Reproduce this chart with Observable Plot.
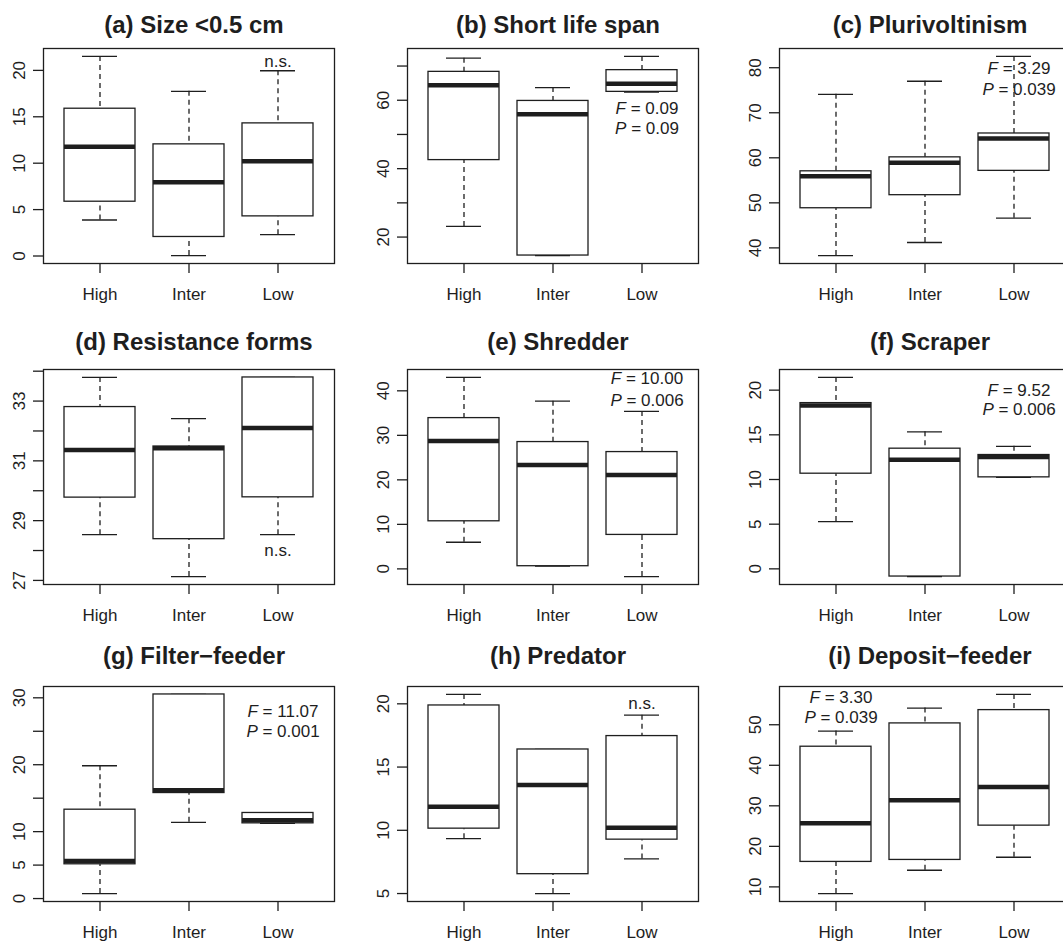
<!DOCTYPE html>
<html><head><meta charset="utf-8">
<script src="https://cdn.jsdelivr.net/npm/d3@7"></script>
<script src="https://cdn.jsdelivr.net/npm/@observablehq/plot@0.6"></script>
<style>
html,body{margin:0;padding:0;background:#fff;overflow:hidden;}
#fig{position:relative;width:1063px;height:942px;overflow:hidden;background:#fff;}
#fig svg{position:absolute;}
</style></head><body><div id="fig"></div>
<script>
const groups = ["High", "Inter", "Low"];
const titles = ["(a) Size <0.5 cm", "(b) Short life span", "(c) Plurivoltinism",
  "(d) Resistance forms", "(e) Shredder", "(f) Scraper",
  "(g) Filter\u2212feeder", "(h) Predator", "(i) Deposit\u2212feeder"];

// box statistics, one row per panel, columns High / Inter / Low
const whiskerLow = [
  [3.88, 0.05, 2.3], [23.1, 14.6, 62.4], [38.3, 41.2, 46.6],
  [28.53, 27.13, 28.53], [5.98, 0.6, -1.72], [5.29, -0.86, 10.24],
  [0.75, 11.39, 11.24], [9.34, 5.0, 7.74], [8.36, 14.1, 17.31]];
const quart1 = [
  [5.85, 2.05, 4.27], [42.5, 14.6, 62.45], [48.8, 51.7, 57.1],
  [29.77, 28.38, 29.78], [10.69, 0.6, 7.63], [10.65, -0.86, 10.24],
  [5.12, 15.77, 11.24], [10.13, 6.53, 9.26], [16.16, 16.65, 25.11]];
const median = [
  [11.78, 7.94, 10.2], [64.4, 55.9, 64.8], [55.9, 58.9, 64.3],
  [31.36, 31.42, 32.1], [28.7, 23.33, 21.08], [18.29, 12.22, 12.51],
  [5.62, 16.2, 11.69], [11.87, 13.58, 10.21], [25.69, 31.36, 34.64]];
const quart3 = [
  [15.87, 12.03, 14.29], [68.3, 59.8, 68.8], [57.0, 60.1, 65.4],
  [32.8, 31.48, 33.79], [33.87, 28.49, 26.24], [18.55, 13.45, 12.74],
  [13.28, 30.5, 12.79], [19.87, 16.39, 17.45], [44.58, 50.33, 53.61]];
const whiskerHigh = [
  [21.5, 17.74, 19.96], [72.3, 63.7, 72.8], [74.1, 77.0, 82.5],
  [33.79, 32.41, 33.79], [43.0, 37.68, 35.36], [21.42, 15.34, 13.71],
  [19.85, 30.5, 12.79], [20.74, 16.39, 19.1], [48.44, 54.1, 57.47]];

const yTicks = [
  [0, 5, 10, 15, 20], [20, 30, 40, 50, 60, 70], [40, 50, 60, 70, 80],
  [27, 28, 29, 30, 31, 32, 33, 34], [0, 10, 20, 30, 40], [0, 5, 10, 15, 20],
  [0, 5, 10, 15, 20, 25, 30], [5, 10, 15, 20], [10, 20, 30, 40, 50]];
const yLabels = [
  [0, 5, 10, 15, 20], [20, 40, 60], [40, 50, 60, 70, 80],
  [27, 29, 31, 33], [0, 10, 20, 30, 40], [0, 5, 10, 15, 20],
  [0, 5, 10, 20, 30], [5, 10, 15, 20], [10, 20, 30, 40, 50]];

// annotations
const noteText = [["n.s."], ["F = 0.09", "P = 0.09"], ["F = 3.29", "P = 0.039"],
  ["n.s."], ["F = 10.00", "P = 0.006"], ["F = 9.52", "P = 0.006"],
  ["F = 11.07", "P = 0.001"], ["n.s."], ["F = 3.30", "P = 0.039"]];
const noteGroup = ["Low", "Low", "Low", "Low", "Low", "Low", "Low", "Low", "High"];
const noteY = [[20.95], [57.66, 51.8], [79.85, 75.07], [28.0], [42.84, 37.9],
  [19.93, 17.88], [27.9, 24.9], [20.0], [56.8, 51.7]];

// layout
const colLeft = [43.3, 406.7, 779.3];
const rowTop = [47.7, 369, 685.7];
const titleGap = [24, 27.7, 31.3];
const frameW = 291, frameH = 215;
const mL = 45, mR = 2, mT = 50, mB = 45;
const ink = "#1e1e1e";
const svgns = "http://www.w3.org/2000/svg";
const fig = document.getElementById("fig");

for (let p = 0; p < 9; p++) {
  const r = Math.floor(p / 3), c = p % 3;
  const rows = groups.map((g, j) => ({
    group: g, lo: whiskerLow[p][j], q1: quart1[p][j], med: median[p][j],
    q3: quart3[p][j], hi: whiskerHigh[p][j]}));
  const lo = d3.min(rows, d => d.lo), hi = d3.max(rows, d => d.hi);
  const pad = 0.04 * (hi - lo);
  const notes = noteText[p].map((t, k) => ({group: noteGroup[p], y: noteY[p][k], text: t}));
  const isStat = notes[0].text.startsWith("F");
  const line = {stroke: ink, strokeWidth: 1.3};
  const chart = Plot.plot({
    width: mL + frameW + mR, height: mT + frameH + mB,
    marginLeft: mL, marginRight: mR, marginTop: mT, marginBottom: mB,
    style: {fontFamily: "'Liberation Sans', Arial, Helvetica, sans-serif", fontSize: "17px", color: ink, background: "transparent", overflow: "visible"},
    x: {type: "band", domain: groups, paddingInner: 0.2, paddingOuter: 0.22},
    y: {domain: [lo - pad, hi + pad]},
    marks: [
      Plot.axisX({tickSize: 10, tickPadding: 14, fontSize: 17, label: null, strokeWidth: 1.3}),
      Plot.axisY({ticks: yTicks[p], tickFormat: d => yLabels[p].includes(d) ? String(d) : "",
        tickRotate: -90, tickSize: 10, tickPadding: 9, fontSize: 17, label: null, strokeWidth: 1.3}),
      Plot.ruleX(rows, {x: "group", y1: "hi", y2: "q3", ...line, strokeDasharray: "5,4"}),
      Plot.ruleX(rows, {x: "group", y1: "lo", y2: "q1", ...line, strokeDasharray: "5,4"}),
      Plot.tickY(rows, {x: "group", y: "hi", insetLeft: 18, insetRight: 18, ...line}),
      Plot.tickY(rows, {x: "group", y: "lo", insetLeft: 18, insetRight: 18, ...line}),
      Plot.barY(rows, {x: "group", y1: "q1", y2: "q3", fill: "white", ...line}),
      Plot.tickY(rows, {x: "group", y: "med", stroke: ink, strokeWidth: 4.5}),
      Plot.frame({stroke: ink, strokeWidth: 1.3}),
      Plot.text(notes, {x: "group", y: "y", text: "text", fontSize: 17, dx: isStat ? 5 : 0, fill: ink}),
      Plot.text([titles[p]], {frameAnchor: "top", dy: -(titleGap[r] - 0.9), dx: 5,
        fontSize: 24, fontWeight: "bold", fill: ink, lineAnchor: "middle"})
    ]
  });
  chart.style.left = (colLeft[c] - mL) + "px";
  chart.style.top = (rowTop[r] - mT) + "px";
  chart.querySelectorAll("text").forEach(t => {
    const s = t.textContent;
    if (/^[FP] = /.test(s)) {
      t.textContent = "";
      const a = document.createElementNS(svgns, "tspan");
      a.setAttribute("font-style", "italic");
      a.textContent = s[0];
      const b = document.createElementNS(svgns, "tspan");
      b.textContent = s.slice(1);
      t.append(a, b);
    }
  });
  fig.appendChild(chart);
}
</script>
</body></html>
